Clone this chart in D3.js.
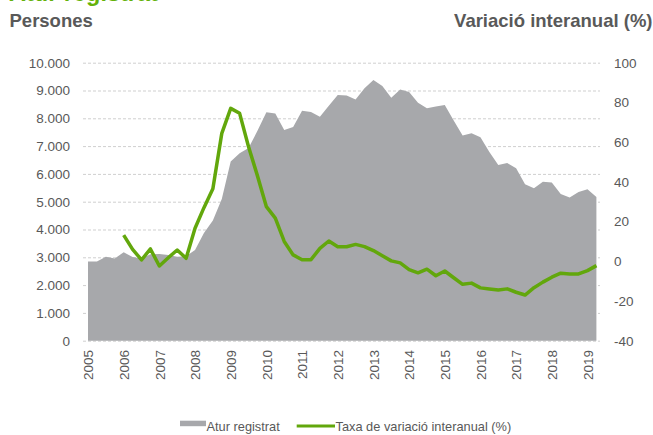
<!DOCTYPE html>
<html>
<head>
<meta charset="utf-8">
<script src="https://cdn.jsdelivr.net/npm/d3@7.9.0/dist/d3.min.js"></script>
<style>
  body { margin: 0; background: #fff; }
  svg { display: block; font-family: "Liberation Sans", Arial, sans-serif; }
</style>
</head>
<body>
<div id="chart"></div>
<script>
/* =========================
   DATA (quarterly, 2005 T1 - 2019 T2)
========================= */
const years = d3.range(2005, 2020);
const quarters = ['T1', 'T2', 'T3', 'T4'];

// Atur registrat (persones)
const aturRegistrat = [
  2850, 2850, 3020, 2960,
  3180, 3010, 2960, 3110,
  3120, 3080, 3020, 3040,
  3260, 3870, 4320, 5100,
  6450, 6740, 6930, 7550,
  8220, 8170, 7580, 7690,
  8270, 8230, 8060, 8450,
  8840, 8820, 8680, 9080,
  9380, 9160, 8740, 9040,
  8950, 8560, 8360, 8420,
  8480, 7920, 7380, 7460,
  7320, 6790, 6320, 6390,
  6200, 5630, 5480, 5720,
  5690, 5280, 5150, 5350,
  5450, 5170
];

// Taxa de variació interanual (%)
const variacio = [
  null, null, null, null,
  13.2, 6.0, 0.7, 6.2,
  -2.4, 1.8, 5.7, 1.5,
  16.6, 27.0, 36.5, 64.4,
  77.0, 74.5, 57.7, 43.0,
  27.5, 21.7, 10.0, 3.2,
  0.8, 0.8, 6.5, 10.2,
  7.3, 7.3, 8.5, 7.4,
  5.4, 2.8, 0.2, -0.8,
  -4.2, -5.8, -4.0, -7.3,
  -4.9, -8.3, -11.6, -11.0,
  -13.4, -14.0, -14.5, -13.9,
  -15.6, -17.0, -13.3, -10.5,
  -8.0, -6.0, -6.4, -6.4,
  -4.7, -2.2
];

const leftTicks = [0, 1000, 2000, 3000, 4000, 5000, 6000, 7000, 8000, 9000, 10000];
const rightTicks = [-40, -20, 0, 20, 40, 60, 80, 100];

const periods = years.flatMap(y => quarters.map(q => `${y} ${q}`)).slice(0, aturRegistrat.length);
const data = periods.map((p, i) => ({ period: p, i, atur: aturRegistrat[i], taxa: variacio[i] }));

/* =========================
   LAYOUT
========================= */
const width = 653;
const height = 435;
const plot = { left: 88, right: 596.4, top: 62.7, bottom: 340.7, gridLeft: 83, gridRight: 600 };

const grey = '#a7a8ab';
const green = '#62a70c';
const textCol = '#595959';

const svg = d3.select('#chart')
  .append('svg')
  .attr('width', width)
  .attr('height', height);

/* =========================
   SCALES
========================= */
const x = d3.scaleLinear()
  .domain([0, data.length - 1])
  .range([plot.left, plot.right]);

const yLeft = d3.scaleLinear()
  .domain([0, 10000])
  .range([plot.bottom, plot.top]);

const yRight = d3.scaleLinear()
  .domain([-40, 100])
  .range([plot.bottom, plot.top]);

const ca = d3.formatLocale({ decimal: ',', thousands: '.', grouping: [3], currency: ['', ' €'] });
const fmtThousands = ca.format(',');

/* =========================
   TITLES
========================= */
svg.append('text')
  .attr('x', 9)
  .attr('y', 1)
  .attr('fill', '#64b20a')
  .style('font-size', '23.5px')
  .style('font-weight', 'bold')
  .text('Atur registrat');

svg.append('text')
  .attr('x', 9.5)
  .attr('y', 27)
  .attr('fill', textCol)
  .style('font-size', '18.5px')
  .style('font-weight', 'bold')
  .text('Persones');

svg.append('text')
  .attr('x', 652.5)
  .attr('y', 27)
  .attr('text-anchor', 'end')
  .attr('fill', textCol)
  .style('font-size', '18.5px')
  .style('font-weight', 'bold')
  .text('Variació interanual (%)');

/* =========================
   GRIDLINES
========================= */
const grid = svg.append('g')
  .attr('transform', `translate(${plot.gridLeft},0)`)
  .call(d3.axisLeft(yLeft)
    .tickValues(leftTicks)
    .tickSize(-(plot.gridRight - plot.gridLeft))
    .tickFormat(''));

grid.select('.domain').remove();
grid.selectAll('line')
  .attr('stroke', '#cfcfcf')
  .attr('stroke-width', 1)
  .attr('stroke-dasharray', '3,2');

/* =========================
   AREA
========================= */
const area = d3.area()
  .x(d => x(d.i))
  .y0(yLeft(0))
  .y1(d => yLeft(d.atur));

svg.append('path')
  .datum(data)
  .attr('d', area)
  .attr('fill', grey);

/* =========================
   LINE
========================= */
const line = d3.line()
  .defined(d => d.taxa !== null)
  .x(d => x(d.i))
  .y(d => yRight(d.taxa));

svg.append('path')
  .datum(data)
  .attr('d', line)
  .attr('fill', 'none')
  .attr('stroke', green)
  .attr('stroke-width', 3.5)
  .attr('stroke-linejoin', 'round')
  .attr('stroke-linecap', 'butt');

/* =========================
   AXES
========================= */
const styleAxis = (g) => {
  g.select('.domain').remove();
  g.selectAll('line').remove();
  g.selectAll('text')
    .attr('fill', textCol)
    .style('font-size', '13.5px')
    .style('font-family', '"Liberation Sans", Arial, sans-serif');
};

svg.append('g')
  .attr('transform', 'translate(70,0)')
  .call(d3.axisLeft(yLeft)
    .tickValues(leftTicks)
    .tickSize(0)
    .tickPadding(0)
    .tickFormat(fmtThousands))
  .call(styleAxis);

svg.append('g')
  .attr('transform', 'translate(614,0)')
  .call(d3.axisRight(yRight)
    .tickValues(rightTicks)
    .tickSize(0)
    .tickPadding(0)
    .tickFormat(d => String(d)))
  .call(styleAxis);

const yearIdx = years.map((y, j) => j * 4);

const xAxis = svg.append('g')
  .attr('transform', 'translate(0,350)')
  .call(d3.axisBottom(x)
    .tickValues(yearIdx)
    .tickSize(0)
    .tickFormat((d, j) => years[j]))
  .call(styleAxis);

xAxis.selectAll('text')
  .attr('x', 0)
  .attr('y', 0)
  .attr('dy', '0.35em')
  .attr('text-anchor', 'end')
  .attr('transform', 'rotate(-90)');

/* =========================
   LEGEND
========================= */
const legend = svg.append('g').style('font-size', '12.8px');

legend.append('rect')
  .attr('x', 180)
  .attr('y', 420.7)
  .attr('width', 26)
  .attr('height', 5.5)
  .attr('fill', grey);

legend.append('text')
  .attr('x', 206.5)
  .attr('y', 430.5)
  .attr('fill', textCol)
  .text('Atur registrat');

legend.append('line')
  .attr('x1', 296.7)
  .attr('x2', 335)
  .attr('y1', 426)
  .attr('y2', 426)
  .attr('stroke', green)
  .attr('stroke-width', 3);

legend.append('text')
  .attr('x', 335.5)
  .attr('y', 430.5)
  .attr('fill', textCol)
  .text('Taxa de variació interanual (%)');
</script>
</body>
</html>
